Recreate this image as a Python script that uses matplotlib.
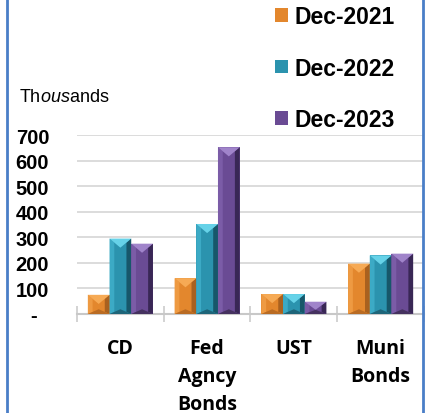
import matplotlib
matplotlib.use("Agg")
import matplotlib.pyplot as plt
import numpy as np
from matplotlib.lines import Line2D
from matplotlib.patches import Polygon

categories = ["CD", "Fed\nAgncy\nBonds", "UST", "Muni\nBonds"]
series_names = ["Dec-2021", "Dec-2022", "Dec-2023"]
dec_2021 = [75, 140, 78, 197]
dec_2022 = [295, 352, 78, 229]
dec_2023 = [275, 652, 48, 236]
y_ticks = [0, 100, 200, 300, 400, 500, 600, 700]
y_tick_labels = ["-  ", "100", "200", "300", "400", "500", "600", "700"]

# base, top, left, right, bottom
PALETTE = [
    ("#E3872D", "#F6AA55", "#EE9A42", "#A9611F", "#B96B23"),
    ("#2B93AE", "#66D2E8", "#3CAAC5", "#17576A", "#1E6579"),
    ("#6A4B94", "#A084CA", "#7B5CA7", "#392755", "#45315F"),
]

plt.rcParams["mathtext.fontset"] = "custom"
plt.rcParams["mathtext.rm"] = "Liberation Sans"
plt.rcParams["mathtext.it"] = "Liberation Sans:italic"

W, H = 427, 414
fig = plt.figure(figsize=(W / 100, H / 100), dpi=100)
fig.patch.set_facecolor("white")
ax = fig.add_axes([77 / W, (H - 315) / H, (424 - 77) / W, (315 - 136) / H])

x = np.arange(len(categories))
bw = 0.25
series = [dec_2021, dec_2022, dec_2023]
containers = []
for i, vals in enumerate(series):
    bc = ax.bar(x + (i - 1) * bw, vals, width=bw, color=PALETTE[i][0],
                edgecolor="none", zorder=3, label=series_names[i])
    containers.append(bc)

ax.set_xlim(-0.5, len(categories) - 0.5)
ax.set_ylim(0, 700)


def bevel(ax, patch, cols):
    """Pyramid-like bevel faces on a bar, sized in pixels."""
    to_px = ax.transData
    to_data = ax.transData.inverted()
    x0, y0 = to_px.transform((patch.get_x(), patch.get_y()))
    x1, y1 = to_px.transform((patch.get_x() + patch.get_width(),
                              patch.get_y() + patch.get_height()))
    w = x1 - x0
    hp = y1 - y0
    xc = (x0 + x1) / 2
    dt = 0.42 * w
    db = 0.22 * w
    if dt + db > hp:
        k = hp / (dt + db)
        dt, db = dt * k, db * k
    s = 0.22 * w
    f = 2 * s / w
    faces = [
        ([(x0, y0), (x0, y1), (x0 + s, y1 - dt * f), (x0 + s, y0 + db * f)], cols[2]),
        ([(x1, y0), (x1, y1), (x1 - s, y1 - dt * f), (x1 - s, y0 + db * f)], cols[3]),
        ([(x0, y1), (x1, y1), (xc, y1 - dt)], cols[1]),
        ([(x0, y0), (x1, y0), (xc, y0 + db)], cols[4]),
    ]
    for pts, c in faces:
        ax.add_patch(Polygon(to_data.transform(pts), closed=True,
                             facecolor=c, edgecolor="none", zorder=4))


for i, bc in enumerate(containers):
    for p in bc.patches:
        bevel(ax, p, PALETTE[i])

ax.set_yticks(y_ticks)
ax.set_yticklabels(y_tick_labels, fontsize=14.5, fontweight="bold",
                   family="Liberation Sans")
ax.tick_params(axis="y", length=0, pad=20)
ax.yaxis.grid(True, color="#D9D9D9", linewidth=1.3, zorder=0)
ax.set_axisbelow(True)

ax.set_xticks(x)
ax.set_xticklabels(categories, fontsize=14, fontweight="bold",
                   family="Open Sans", linespacing=1.55)
ax.set_xticks(np.arange(len(categories) + 1) - 0.5, minor=True)
ax.tick_params(axis="x", which="major", length=0, pad=17)
ax.tick_params(axis="x", which="minor", length=11, width=1.3,
               color="#D0D0D0", direction="inout")

for side in ("left", "right", "top"):
    ax.spines[side].set_visible(False)
ax.spines["bottom"].set_color("#C8C8C8")
ax.spines["bottom"].set_linewidth(1.5)

fig.text(19 / W, 1 - 98 / H, r"Th$\mathit{ous}$ands", fontsize=13,
         family="Liberation Sans", ha="left", va="center")

leg = fig.legend(handles=containers, labels=series_names, loc="upper left",
                 bbox_to_anchor=(275 / W, 1 - 6 / H), frameon=False,
                 prop={"family": "Liberation Sans", "weight": "bold", "size": 16.5},
                 handlelength=0.55, handleheight=0.55, handletextpad=0.3,
                 labelspacing=1.25, borderpad=0, borderaxespad=0)

for xb in (7, 423.5):
    fig.add_artist(Line2D([xb / W, xb / W], [0, 1], transform=fig.transFigure,
                          color="#4A7EC7", linewidth=2.0))

fig.savefig("out.png", dpi=100, facecolor="white")
